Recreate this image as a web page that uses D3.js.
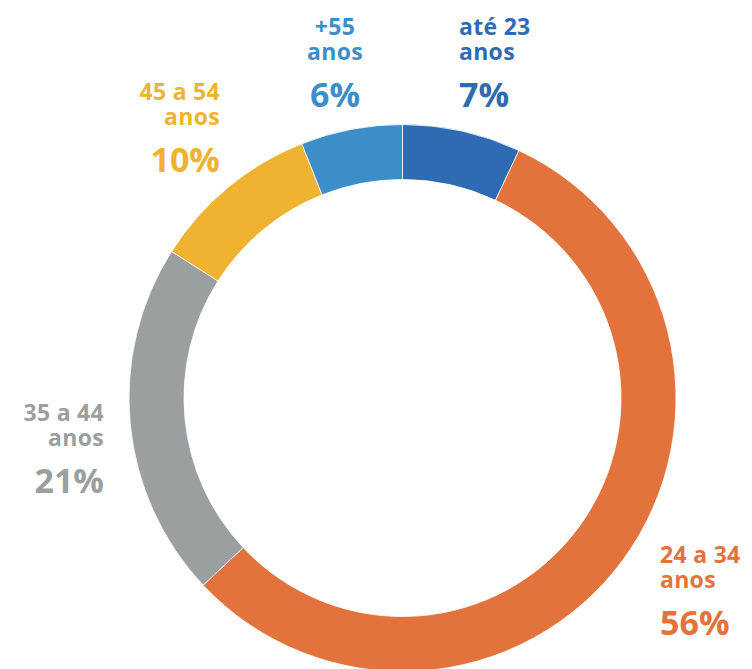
<!DOCTYPE html>
<html>
<head>
<meta charset="utf-8">
<script src="https://cdn.jsdelivr.net/npm/d3@7"></script>
<style>
  html, body { margin: 0; padding: 0; background: #fff; }
  svg { display: block; }
</style>
</head>
<body>
<div id="chart"></div>
<script>
// Data
const groups = ["até 23", "24 a 34", "35 a 44", "45 a 54", "+55"];
const shares = [7, 56, 21, 10, 6];
const colors = ["#2E6BB3", "#E2733D", "#9C9FA0", "#F0B231", "#3D8EC8"];

// label placement (x, first baseline, anchor)
const labelPos = {
  "até 23": { x: 459, y: 35, anchor: "start" },
  "24 a 34": { x: 660, y: 563, anchor: "start" },
  "35 a 44": { x: 104, y: 421, anchor: "end" },
  "45 a 54": { x: 220, y: 100, anchor: "end" },
  "+55": { x: 335, y: 35, anchor: "middle" }
};

const width = 752;
const height = 669;
const cx = 402.5, cy = 398;
const outerR = 273.5, innerR = 218.5;

const color = d3.scaleOrdinal().domain(groups).range(colors);

const data = groups.map((g, i) => ({ group: g, value: shares[i] }));

const svg = d3.select("#chart")
  .append("svg")
  .attr("width", width)
  .attr("height", height);

const pie = d3.pie()
  .sort(null)
  .value(d => d.value);

const arc = d3.arc()
  .innerRadius(innerR)
  .outerRadius(outerR);

const g = svg.append("g")
  .attr("transform", `translate(${cx},${cy})`);

g.selectAll("path")
  .data(pie(data))
  .enter()
  .append("path")
  .attr("d", arc)
  .attr("fill", d => color(d.data.group))
  .attr("stroke", "#fff")
  .attr("stroke-width", 0.8);

// Labels
const labels = svg.selectAll("g.label")
  .data(data)
  .enter()
  .append("g")
  .attr("class", "label")
  .attr("transform", d => `translate(${labelPos[d.group].x},${labelPos[d.group].y})`)
  .style("font-family", "'Open Sans', sans-serif")
  .style("font-weight", "bold")
  .attr("fill", d => color(d.group))
  .attr("text-anchor", d => labelPos[d.group].anchor);

labels.append("text")
  .style("font-size", "23px")
  .style("letter-spacing", "0.3px")
  .text(d => d.group);

labels.append("text")
  .attr("y", 25)
  .style("font-size", "23px")
  .style("letter-spacing", "0.3px")
  .text("anos");

labels.append("text")
  .attr("y", 72)
  .style("font-size", "34px")
  .text(d => d.value + "%");
</script>
</body>
</html>
